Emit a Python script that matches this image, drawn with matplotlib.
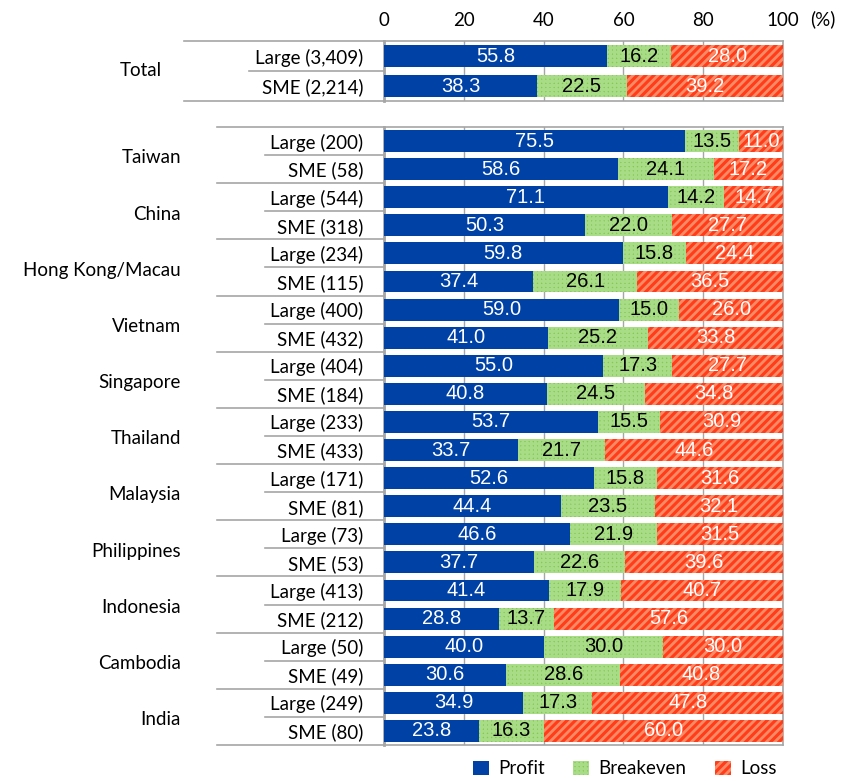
import numpy as np
import matplotlib.pyplot as plt
from matplotlib.patches import Patch
from matplotlib.lines import Line2D
from matplotlib.transforms import blended_transform_factory

plt.rcParams['font.family'] = ['Lato', 'DejaVu Sans']
plt.rcParams['hatch.linewidth'] = 2.0

# Total block
total_rows = ['Large (3,409)', 'SME (2,214)']
total_profit = [55.8, 38.3]
total_breakeven = [16.2, 22.5]
total_loss = [28.0, 39.2]

# Country block (two rows per country: Large, SME)
countries = ['Taiwan', 'China', 'Hong Kong/Macau', 'Vietnam', 'Singapore', 'Thailand',
             'Malaysia', 'Philippines', 'Indonesia', 'Cambodia', 'India']
country_rows = ['Large (200)', 'SME (58)', 'Large (544)', 'SME (318)',
                'Large (234)', 'SME (115)', 'Large (400)', 'SME (432)',
                'Large (404)', 'SME (184)', 'Large (233)', 'SME (433)',
                'Large (171)', 'SME (81)', 'Large (73)', 'SME (53)',
                'Large (413)', 'SME (212)', 'Large (50)', 'SME (49)',
                'Large (249)', 'SME (80)']
profit = [75.5, 58.6, 71.1, 50.3, 59.8, 37.4, 59.0, 41.0, 55.0, 40.8, 53.7, 33.7,
          52.6, 44.4, 46.6, 37.7, 41.4, 28.8, 40.0, 30.6, 34.9, 23.8]
breakeven = [13.5, 24.1, 14.2, 22.0, 15.8, 26.1, 15.0, 25.2, 17.3, 24.5, 15.5, 21.7,
             15.8, 23.5, 21.9, 22.6, 17.9, 13.7, 30.0, 28.6, 17.3, 16.3]
loss = [11.0, 17.2, 14.7, 27.7, 24.4, 36.5, 26.0, 33.8, 27.7, 34.8, 30.9, 44.6,
        31.6, 32.1, 31.5, 39.6, 40.7, 57.6, 30.0, 40.8, 47.8, 60.0]

ticks = [0, 20, 40, 60, 80, 100]

profit_color = '#0041A6'
be_face, be_hatch = '#84C956', '#A9DC86'
loss_face, loss_hatch = '#FF3D1A', '#FF8A66'
grid_color = '#A6A6A6'
num_font = ['Liberation Sans', 'DejaVu Sans']
label_size = 13.5
num_size = 14.5

fig = plt.figure(figsize=(8.48, 7.81), dpi=100)
ax_top = fig.add_axes([384 / 848, 1 - 101 / 781, 399 / 848, 60 / 781])
ax_bot = fig.add_axes([384 / 848, 1 - 745 / 781, 399 / 848, 618 / 781])


def draw_block(ax, rows, p, b, l, bar_h):
    y = np.arange(len(rows))
    p = np.array(p); b = np.array(b); l = np.array(l)
    ax.barh(y, p, height=bar_h, color=profit_color, lw=0, zorder=3)
    ax.barh(y, b, left=p, height=bar_h, facecolor=be_face, edgecolor=be_hatch,
            hatch='++++', lw=0, zorder=3)
    ax.barh(y, l, left=p + b, height=bar_h, facecolor=loss_face, edgecolor=loss_hatch,
            hatch='////', lw=0, zorder=3)
    for i in y:
        ax.text(p[i] / 2, i, f'{p[i]:.1f}', color='white', ha='center', va='center',
                fontsize=num_size, family=num_font, zorder=4)
        ax.text(p[i] + b[i] / 2, i, f'{b[i]:.1f}', color='black', ha='center', va='center',
                fontsize=num_size, family=num_font, zorder=4)
        ax.text(p[i] + b[i] + l[i] / 2, i, f'{l[i]:.1f}', color='white', ha='center',
                va='center', fontsize=num_size, family=num_font, zorder=4, clip_on=True)
    ax.set_xlim(0, 100)
    ax.set_ylim(len(rows) - 0.5, -0.5)
    ax.set_yticks(y)
    ax.set_yticklabels(rows, fontsize=label_size)
    ax.tick_params(axis='y', length=0, pad=15)
    ax.set_xticks(ticks)
    ax.grid(axis='x', color=grid_color, lw=1, zorder=0)
    for s in ax.spines.values():
        s.set_color(grid_color)
        s.set_linewidth(1.2)
    ax.spines['left'].set_linewidth(2)


draw_block(ax_top, total_rows, total_profit, total_breakeven, total_loss, 0.73)
draw_block(ax_bot, country_rows, profit, breakeven, loss, 0.78)

ax_top.xaxis.tick_top()
ax_top.tick_params(axis='x', length=0, labelsize=label_size, pad=8.5)
ax_bot.tick_params(axis='x', length=0, labelbottom=False)
fig.text(823 / 848, 1 - 19 / 781, '(%)', fontsize=label_size, ha='center', va='center')

# Group labels and table rules on the left side
line_kw = dict(color=grid_color, lw=1.2, clip_on=False)
tr_top = blended_transform_factory(fig.transFigure, ax_top.transData)
fig.add_artist(Line2D([184 / 848, 384 / 848], [-0.5, -0.5], transform=tr_top, **line_kw))
fig.add_artist(Line2D([249 / 848, 384 / 848], [0.5, 0.5], transform=tr_top, **line_kw))
fig.add_artist(Line2D([184 / 848, 384 / 848], [1.5, 1.5], transform=tr_top, **line_kw))
fig.text(141 / 848, 0.5, 'Total', transform=tr_top, fontsize=label_size,
         ha='center', va='center')

tr_bot = blended_transform_factory(fig.transFigure, ax_bot.transData)
for k, name in enumerate(countries):
    y0 = 2 * k - 0.5
    fig.add_artist(Line2D([217 / 848, 384 / 848], [y0, y0], transform=tr_bot, **line_kw))
    fig.add_artist(Line2D([265 / 848, 384 / 848], [y0 + 1, y0 + 1], transform=tr_bot, **line_kw))
    fig.text(181 / 848, 2 * k + 0.6, name, transform=tr_bot, fontsize=label_size,
             ha='right', va='center')
fig.add_artist(Line2D([217 / 848, 384 / 848], [21.5, 21.5], transform=tr_bot, **line_kw))

handles = [Patch(facecolor=profit_color, lw=0),
           Patch(facecolor=be_face, edgecolor=be_hatch, hatch='++++', lw=0),
           Patch(facecolor=loss_face, edgecolor=loss_hatch, hatch='////', lw=0)]
fig.legend(handles, ['Profit', 'Breakeven', 'Loss'], loc='center',
           bbox_to_anchor=(625 / 848, 1 - 769 / 781), ncol=3, frameon=False,
           fontsize=label_size, handlelength=0.85, handleheight=0.85,
           columnspacing=1.5, handletextpad=0.5)

fig.savefig('out.png', dpi=100)
